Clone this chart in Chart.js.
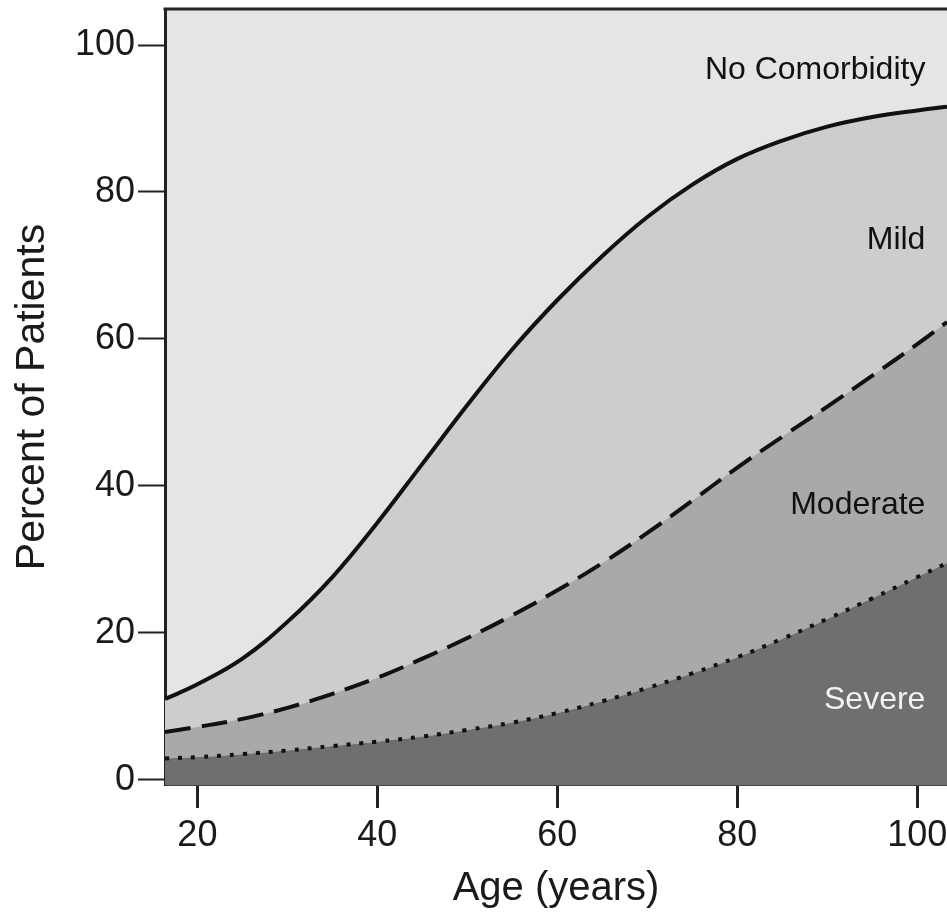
<!DOCTYPE html>
<html>
<head>
<meta charset="utf-8">
<script src="https://cdn.jsdelivr.net/npm/chart.js@4.4.1/dist/chart.umd.min.js"></script>
<style>
  html, body { margin: 0; padding: 0; background: #ffffff; }
  #wrap { width: 947px; height: 919px; }
</style>
</head>
<body>
<div id="wrap"><canvas id="c" width="947" height="919"></canvas></div>
<script>
// ---- data ----
const ages = [16.4, 20, 25, 30, 35, 40, 45, 50, 55, 60, 65, 70, 75, 80, 85, 90, 95, 100, 103.3];
// cumulative upper boundary of each band (percent of patients)
const severeUpper   = [2.9, 3.1, 3.5, 4.0, 4.6, 5.2, 5.9, 6.8, 7.8, 9.1, 10.7, 12.5, 14.5, 16.7, 19.2, 21.9, 24.7, 27.6, 29.5];
const moderateUpper = [6.5, 7.2, 8.3, 9.8, 11.7, 13.9, 16.5, 19.3, 22.4, 25.8, 29.5, 33.6, 38.0, 42.5, 46.7, 50.8, 55.0, 59.3, 62.3];
const mildUpper     = [11.0, 13.0, 16.5, 21.5, 27.6, 35.0, 43.0, 51.0, 58.6, 65.3, 71.3, 76.6, 81.0, 84.5, 87.0, 88.9, 90.2, 91.1, 91.6];
const xTicks = [20, 40, 60, 80, 100];
const yTicks = [0, 20, 40, 60, 80, 100];
const categories = ['No Comorbidity', 'Mild', 'Moderate', 'Severe'];

// label anchor points in data units (right-aligned text)
const labelX = 100.9;
const labelY = [96.6, 73.5, 37.4, 10.9];
const labelColors = ['#111111', '#111111', '#111111', '#f2f2f2'];

const pts = arr => arr.map((v, i) => ({ x: ages[i], y: v }));

const FONT = "'Liberation Sans', Arial, Helvetica, sans-serif";

const areaBg = {
  id: 'areaBg',
  beforeDraw(chart) {
    const { ctx, chartArea: a } = chart;
    ctx.save();
    ctx.fillStyle = '#e5e5e5';
    ctx.fillRect(a.left, a.top, a.right - a.left, a.bottom - a.top);
    ctx.restore();
  },
  afterDraw(chart) {
    const { ctx, chartArea: a } = chart;
    const xs = chart.scales.x, ys = chart.scales.y;
    ctx.save();
    ctx.strokeStyle = '#222222';
    ctx.lineWidth = 3;
    ctx.beginPath();
    ctx.moveTo(a.left - 1.5, a.top);
    ctx.lineTo(a.right, a.top);
    ctx.stroke();
    ctx.font = '32px ' + FONT;
    ctx.textAlign = 'right';
    ctx.textBaseline = 'middle';
    categories.forEach((t, i) => {
      ctx.fillStyle = labelColors[i];
      ctx.fillText(t, xs.getPixelForValue(labelX), ys.getPixelForValue(labelY[i]));
    });
    ctx.restore();
  }
};

new Chart(document.getElementById('c'), {
  type: 'line',
  data: {
    datasets: [
      {
        label: 'Severe',
        data: pts(severeUpper),
        borderColor: '#111111',
        borderWidth: 4,
        borderDash: [4, 9],
        backgroundColor: '#6f6f6f',
        fill: 'start',
        pointRadius: 0,
        tension: 0.4
      },
      {
        label: 'Moderate',
        data: pts(moderateUpper),
        borderColor: '#111111',
        borderWidth: 4,
        borderDash: [26, 11],
        backgroundColor: '#a9a9a9',
        fill: '-1',
        pointRadius: 0,
        tension: 0.4
      },
      {
        label: 'Mild',
        data: pts(mildUpper),
        borderColor: '#111111',
        borderWidth: 4,
        backgroundColor: '#cdcdcd',
        fill: '-1',
        pointRadius: 0,
        tension: 0.4
      }
    ]
  },
  options: {
    responsive: false,
    animation: false,
    layout: { padding: { top: 9, right: 0, left: 0, bottom: 0 } },
    plugins: {
      legend: { display: false },
      tooltip: { enabled: false },
      filler: { drawTime: 'beforeDatasetsDraw' }
    },
    scales: {
      x: {
        type: 'linear',
        min: 16.4,
        max: 103.3,
        afterBuildTicks: s => { s.ticks = xTicks.map(v => ({ value: v })); },
        afterFit: s => { s.height = 134; s.paddingLeft = 0; s.paddingRight = 0; s.paddingTop = 0; s.paddingBottom = 0; },
        grid: { display: true, drawOnChartArea: false, drawTicks: true, tickLength: 23, tickWidth: 3, tickColor: '#222222' },
        border: { display: true, width: 2, color: '#444444' },
        ticks: { color: '#1a1a1a', font: { family: FONT, size: 36 }, padding: 6, maxRotation: 0 },
        title: { display: true, text: 'Age (years)', color: '#1a1a1a', font: { family: FONT, size: 40 }, padding: { top: 0, bottom: 6 } }
      },
      y: {
        type: 'linear',
        min: -0.7,
        max: 104.9,
        afterBuildTicks: s => { s.ticks = yTicks.map(v => ({ value: v })); },
        afterFit: s => { s.width = 165; s.paddingLeft = 0; s.paddingRight = 0; s.paddingTop = 0; s.paddingBottom = 0; },
        grid: { display: true, drawOnChartArea: false, drawTicks: true, tickLength: 27, tickWidth: 2, tickColor: '#222222' },
        border: { display: true, width: 3, color: '#222222' },
        ticks: { color: '#1a1a1a', font: { family: FONT, size: 36 }, padding: 3 },
        title: { display: true, text: 'Percent of Patients', color: '#1a1a1a', font: { family: FONT, size: 41 }, padding: { top: 8, bottom: 0 } }
      }
    }
  },
  plugins: [areaBg]
});
</script>
</body>
</html>
